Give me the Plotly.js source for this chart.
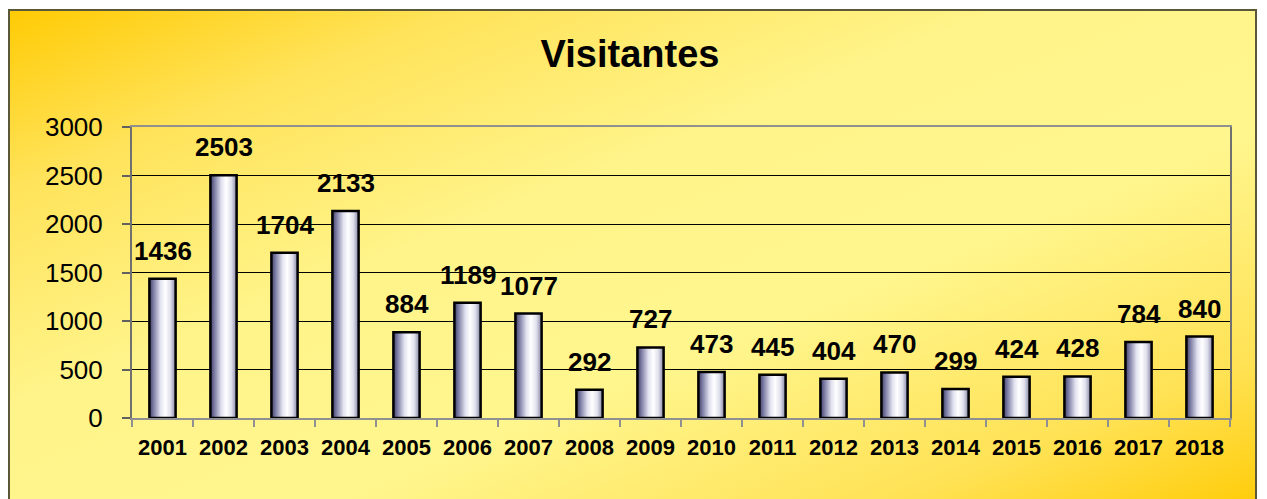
<!DOCTYPE html>
<html>
<head>
<meta charset="utf-8">
<script src="https://cdn.plot.ly/plotly-3.0.1.min.js"></script>
<style>
  html, body { margin: 0; padding: 0; width: 1267px; height: 499px; overflow: hidden; background: #ffffff; }
  #frame { position: absolute; left: 8px; top: 9px; width: 1249px; height: 500px;
           border: 2px solid #5a5838; box-sizing: border-box;
           background: linear-gradient(to bottom right, #ffcb05 0%, #ffe35a 18%, #fff48a 40%, #fff68e 62%, #ffe255 85%, #ffcc08 100%); }
  #chart { position: absolute; left: 0; top: 0; width: 1267px; height: 499px; }
</style>
</head>
<body>
<div id="frame"></div>
<div id="chart"></div>
<script>
const years = ["2001","2002","2003","2004","2005","2006","2007","2008","2009","2010","2011","2012","2013","2014","2015","2016","2017","2018"];
const visitantes = [1436, 2503, 1704, 2133, 884, 1189, 1077, 292, 727, 473, 445, 404, 470, 299, 424, 428, 784, 840];
const yTicks = [0, 500, 1000, 1500, 2000, 2500, 3000];

const trace = {
  type: 'bar',
  x: years,
  y: visitantes,
  width: 0.43,
  marker: { color: '#d8d8e8', line: { color: '#000000', width: 2.5 } },
  hoverinfo: 'none'
};

const annotations = years.map((yr, i) => ({
  x: i, y: visitantes[i], xref: 'x', yref: 'y',
  text: String(visitantes[i]), showarrow: false,
  yanchor: 'bottom', yshift: 11,
  font: { family: 'Liberation Sans, Arial, sans-serif', size: 26, color: '#000000', weight: 'bold' }
}));

const layout = {
  width: 1267, height: 499,
  margin: { l: 132, r: 37, t: 127, b: 81 },
  paper_bgcolor: 'rgba(0,0,0,0)',
  plot_bgcolor: 'rgba(0,0,0,0)',
  showlegend: false,
  title: {
    text: '<b>Visitantes</b>',
    font: { family: 'Liberation Sans, Arial, sans-serif', size: 38, color: '#000000' },
    x: 630 / 1267, xanchor: 'center', xref: 'container',
    y: 1 - 54 / 499, yanchor: 'middle', yref: 'container'
  },
  xaxis: {
    type: 'category',
    range: [-0.5, years.length - 0.5],
    autorange: false,
    tickangle: 0,
    tickfont: { family: 'Liberation Sans, Arial, sans-serif', size: 22, color: '#000000', weight: 'bold' },
    ticks: 'outside', tickson: 'boundaries', ticklen: 7, tickwidth: 2, tickcolor: '#909090',
    ticklabelstandoff: 9,
    showline: true, linecolor: '#909090', linewidth: 2, mirror: true,
    showgrid: false, zeroline: false
  },
  yaxis: {
    range: [0, 3000],
    autorange: false,
    tickvals: yTicks,
    ticktext: yTicks.map(String),
    tickfont: { family: 'Liberation Sans, Arial, sans-serif', size: 26, color: '#000000' },
    ticks: 'outside', ticklen: 8, tickwidth: 2, tickcolor: '#606060',
    ticklabelstandoff: 14,
    showline: true, linecolor: '#707070', linewidth: 2, mirror: true,
    showgrid: true, gridcolor: '#000000', gridwidth: 1,
    zeroline: false
  },
  annotations: annotations
};

Plotly.newPlot('chart', [trace], layout, { displayModeBar: false, staticPlot: true }).then(gd => {
  const svg = gd.querySelector('.main-svg');
  const ns = 'http://www.w3.org/2000/svg';
  let defs = svg.querySelector('defs');
  if (!defs) { defs = document.createElementNS(ns, 'defs'); svg.insertBefore(defs, svg.firstChild); }
  const grad = document.createElementNS(ns, 'linearGradient');
  grad.setAttribute('id', 'cylGrad');
  grad.setAttribute('x1', '0'); grad.setAttribute('y1', '0');
  grad.setAttribute('x2', '1'); grad.setAttribute('y2', '0');
  [['0%', '#3e3e68'], ['15%', '#7a7aa2'], ['42%', '#e2e2f0'], ['60%', '#ffffff'], ['80%', '#e0e0ec'], ['100%', '#8484a6']].forEach(([o, c]) => {
    const s = document.createElementNS(ns, 'stop');
    s.setAttribute('offset', o); s.setAttribute('stop-color', c);
    grad.appendChild(s);
  });
  defs.appendChild(grad);
  gd.querySelectorAll('.bars .point path').forEach(p => { p.style.fill = 'url(#cylGrad)'; });
});
</script>
</body>
</html>
